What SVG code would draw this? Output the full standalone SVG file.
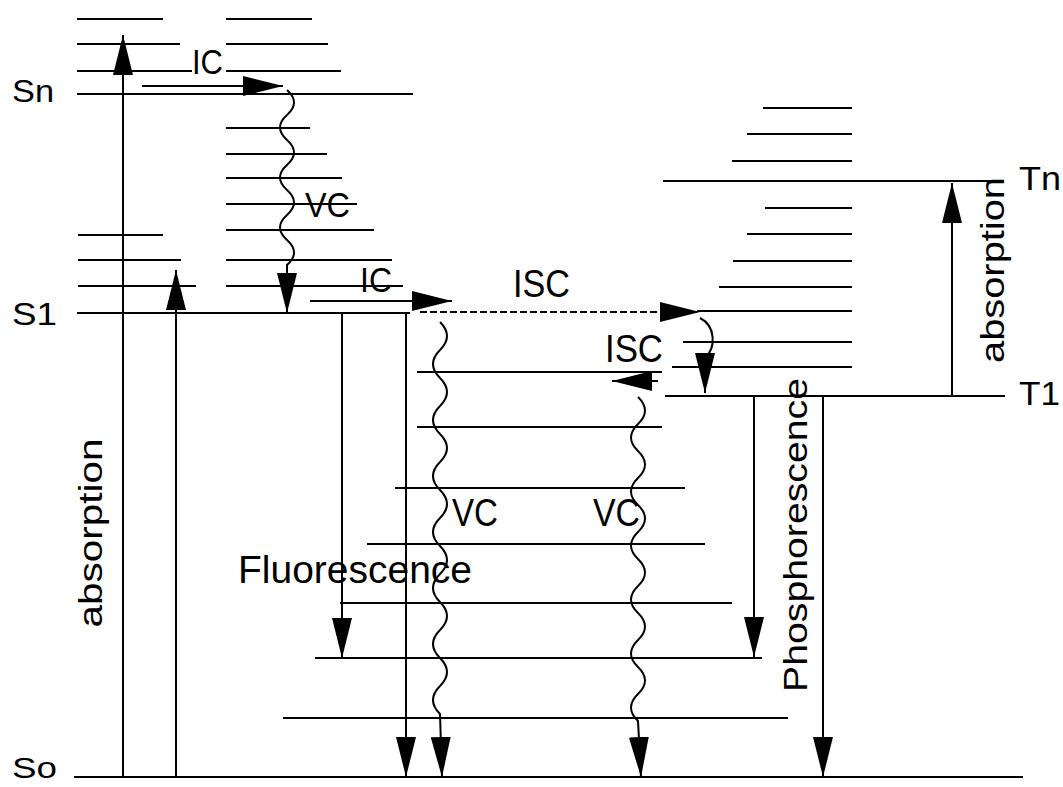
<svg xmlns="http://www.w3.org/2000/svg" width="1063" height="787" viewBox="0 0 1063 787">
<style>
.lv{stroke:#000;stroke-width:2;fill:none}
.ar{stroke:#000;stroke-width:2;fill:none;marker-end:url(#ah)}
.dash{stroke-dasharray:7 3}
.t{font-family:"Liberation Sans",Arial,sans-serif;fill:#000}
</style>
<defs>
<marker id="ah" markerUnits="userSpaceOnUse" markerWidth="40" markerHeight="20" refX="40" refY="10" orient="auto" viewBox="0 0 40 20">
<path d="M0,0 L40,10 L0,20 Z" fill="#000"/>
</marker>
</defs>
<rect width="1063" height="787" fill="#fff"/>

<g id="singlet-levels">
<path class="lv" d="M77,19H163 M77,44H180 M77,71H192 M77,94H413
M226,19H312 M226,44H328 M226,71H341 M226,128H310 M226,154H327 M226,178H342 M226,204H357 M226,230H374 M226,260H392 M226,286H403
M78,235H163 M78,260H181 M78,286H196 M77,313H410"/>
</g>
<g id="triplet-levels">
<path class="lv" d="M763,108H852 M747,134H852 M732,161H852 M663,181H1000 M765,208H852 M747,234H852 M733,261H852 M719,287H852 M697,311H852 M683,342H852 M672,367H852 M665,396H1005"/>
</g>
<g id="ground-levels">
<path class="lv" d="M417,372H662 M417,427H662 M395,488H685 M367,544H705 M340,603H732 M315,658H762 M283,718H788 M74,777H1023"/>
</g>

<g id="connectors">
<path class="ar" d="M123,777V35"/>
<path class="ar" d="M176,777V270"/>
<path class="ar" d="M142,86H283"/>
<path class="ar" d="M287,90q14,12.5 0,25t0,25t0,25t0,25t0,25t0,25t0,25L287,313"/>
<path class="ar" d="M310,301H452"/>
<path class="ar dash" d="M420,312H700"/>
<path class="ar" d="M700,318C716,326 716,348 705,358L705,393"/>
<path class="ar" d="M658,381H612"/>
<path class="ar" d="M342,313V658"/>
<path class="ar" d="M406,313V777"/>
<path class="ar" d="M440,322q14,14 0,28t0,28t0,28t0,28t0,28t0,28t0,28t0,28t0,28t0,28t0,28t0,28t0,28t0,28L442,777"/>
<path class="ar" d="M638,397q14,13.5 0,27t0,27t0,27t0,27t0,27t0,27t0,27t0,27t0,27t0,27t0,27t0,27L641,777"/>
<path class="ar" d="M952,396V183"/>
<path class="ar" d="M754,396V657"/>
<path class="ar" d="M823,396V777"/>
</g>

<g id="labels">
<text class="t" x="12" y="102" font-size="32" textLength="42" lengthAdjust="spacingAndGlyphs">Sn</text>
<text class="t" x="12" y="325" font-size="32" textLength="45" lengthAdjust="spacingAndGlyphs">S1</text>
<text class="t" x="12" y="778" font-size="29" textLength="45" lengthAdjust="spacingAndGlyphs">So</text>
<text class="t" x="1019" y="190" font-size="34" textLength="42" lengthAdjust="spacingAndGlyphs">Tn</text>
<text class="t" x="1019" y="405" font-size="34" textLength="41" lengthAdjust="spacingAndGlyphs">T1</text>
<text class="t" x="192" y="74" font-size="35" textLength="31" lengthAdjust="spacingAndGlyphs">IC</text>
<text class="t" x="305" y="217" font-size="35" textLength="45" lengthAdjust="spacingAndGlyphs">VC</text>
<text class="t" x="360" y="292" font-size="35" textLength="32" lengthAdjust="spacingAndGlyphs">IC</text>
<text class="t" x="513" y="297" font-size="39" textLength="57" lengthAdjust="spacingAndGlyphs">ISC</text>
<text class="t" x="605" y="362" font-size="39" textLength="58" lengthAdjust="spacingAndGlyphs">ISC</text>
<text class="t" x="452" y="526" font-size="38" textLength="46" lengthAdjust="spacingAndGlyphs">VC</text>
<text class="t" x="593" y="526" font-size="38" textLength="47" lengthAdjust="spacingAndGlyphs">VC</text>
<text class="t" x="238" y="583" font-size="38" textLength="234" lengthAdjust="spacingAndGlyphs">Fluorescence</text>
<text class="t" transform="translate(102,533) rotate(-90)" text-anchor="middle" font-size="34" textLength="189" lengthAdjust="spacingAndGlyphs">absorption</text>
<text class="t" transform="translate(1004,270) rotate(-90)" text-anchor="middle" font-size="34" textLength="186" lengthAdjust="spacingAndGlyphs">absorption</text>
<text class="t" transform="translate(807,535) rotate(-90)" text-anchor="middle" font-size="34" textLength="314" lengthAdjust="spacingAndGlyphs">Phosphorescence</text>
</g>
</svg>
